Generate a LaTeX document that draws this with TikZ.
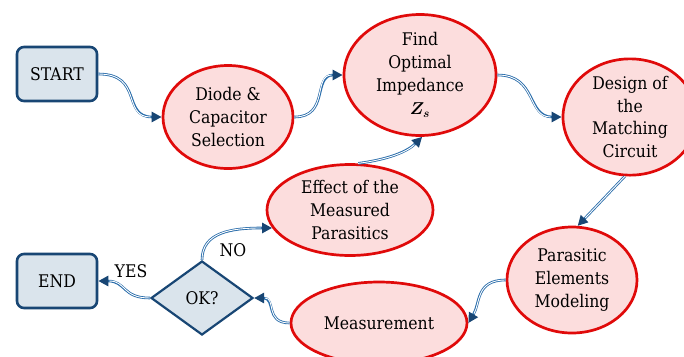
\documentclass[tikz,border=0pt]{standalone}
\usepackage{bm}
\usepackage{fontspec}
\setmainfont{DejaVu Serif Condensed}
\usetikzlibrary{shapes.geometric,arrows.meta}
\definecolor{pinkfill}{RGB}{252,221,221}
\definecolor{redline}{RGB}{224,10,10}
\definecolor{boxfill}{RGB}{218,228,236}
\definecolor{navy}{RGB}{24,70,116}
\definecolor{linkblue}{RGB}{40,108,170}
\tikzset{
  txt/.style={font=\fontsize{17.5}{23}\selectfont, align=center, text=black},
  stage/.style={txt, ellipse, draw=redline, fill=pinkfill, line width=2.7bp, inner sep=0pt},
  termbox/.style={txt, rectangle, rounded corners=7bp, draw=navy, fill=boxfill, line width=2.6bp,
    minimum width=80bp, minimum height=54bp, inner sep=0pt},
  decide/.style={txt, diamond, draw=navy, fill=boxfill, line width=2.2bp, inner sep=0pt,
    minimum width=102bp, minimum height=74bp},
  link/.style={draw=linkblue, line width=2.6bp,
    -{Triangle[length=10bp,width=10bp,color=navy]},
    postaction={draw=white, line width=0.9bp, -, shorten >=11bp}},
  tag/.style={txt}
}
\begin{document}
\begin{tikzpicture}[x=1bp,y=-1bp]
\clip (0,0) rectangle (684,356);
\fill[white] (0,0) rectangle (684,356);

% terminals and decision
\node[termbox] (start) at (57,74) {START};
\node[termbox] (finish) at (57,281) {END};
\node[decide] (ok) at (202,298) {OK?};

% process stages
\node[stage, minimum width=130bp, minimum height=103bp] (diode) at (228,117) {Diode \&\\Capacitor\\Selection};
\node[stage, minimum width=152bp, minimum height=121bp] (find) at (420,75) {Find\\Optimal\\Impedance\\$\bm{Z_s}$};
\node[stage, minimum width=134bp, minimum height=104bp] (design) at (630,117) {Design of\\the\\Matching\\Circuit};
\node[stage, minimum width=130bp, minimum height=106bp] (para) at (572,280) {Parasitic\\Elements\\Modeling};
\node[stage, minimum width=176bp, minimum height=82bp] (meas) at (379,323) {Measurement};
\node[stage, minimum width=166bp, minimum height=91bp] (effect) at (350,210) {Effect of the\\Measured\\Parasitics};

% connectors
\draw[link] (start.east) .. controls +(45,0) and +(-40,0) .. (diode.west);
\draw[link] (diode.east) .. controls +(35,0) and +(-30,0) .. (find.west);
\draw[link] (find.east) .. controls +(40,0) and +(-35,0) .. (design.west);
\draw[link] (design.265) -- (para.84);
\draw[link] (para.west) .. controls +(-30,0) and +(12,-20) .. (meas.east);
\draw[link] (meas.west) .. controls +(-25,0) and +(22,0) .. (ok.east);
\draw[link] (ok.west) .. controls +(-28,0) and +(28,0) .. (finish.east);
\draw[link] (ok.north) .. controls +(0,-28) and +(-40,0) .. (effect.193);
\draw[link] (effect.80) .. controls +(30,-4) and +(-15,15) .. (find.272);

% branch labels
\node[tag] (no) at (233,250) {NO};
\node[tag] (yes) at (131,271) {YES};
\end{tikzpicture}
\end{document}
